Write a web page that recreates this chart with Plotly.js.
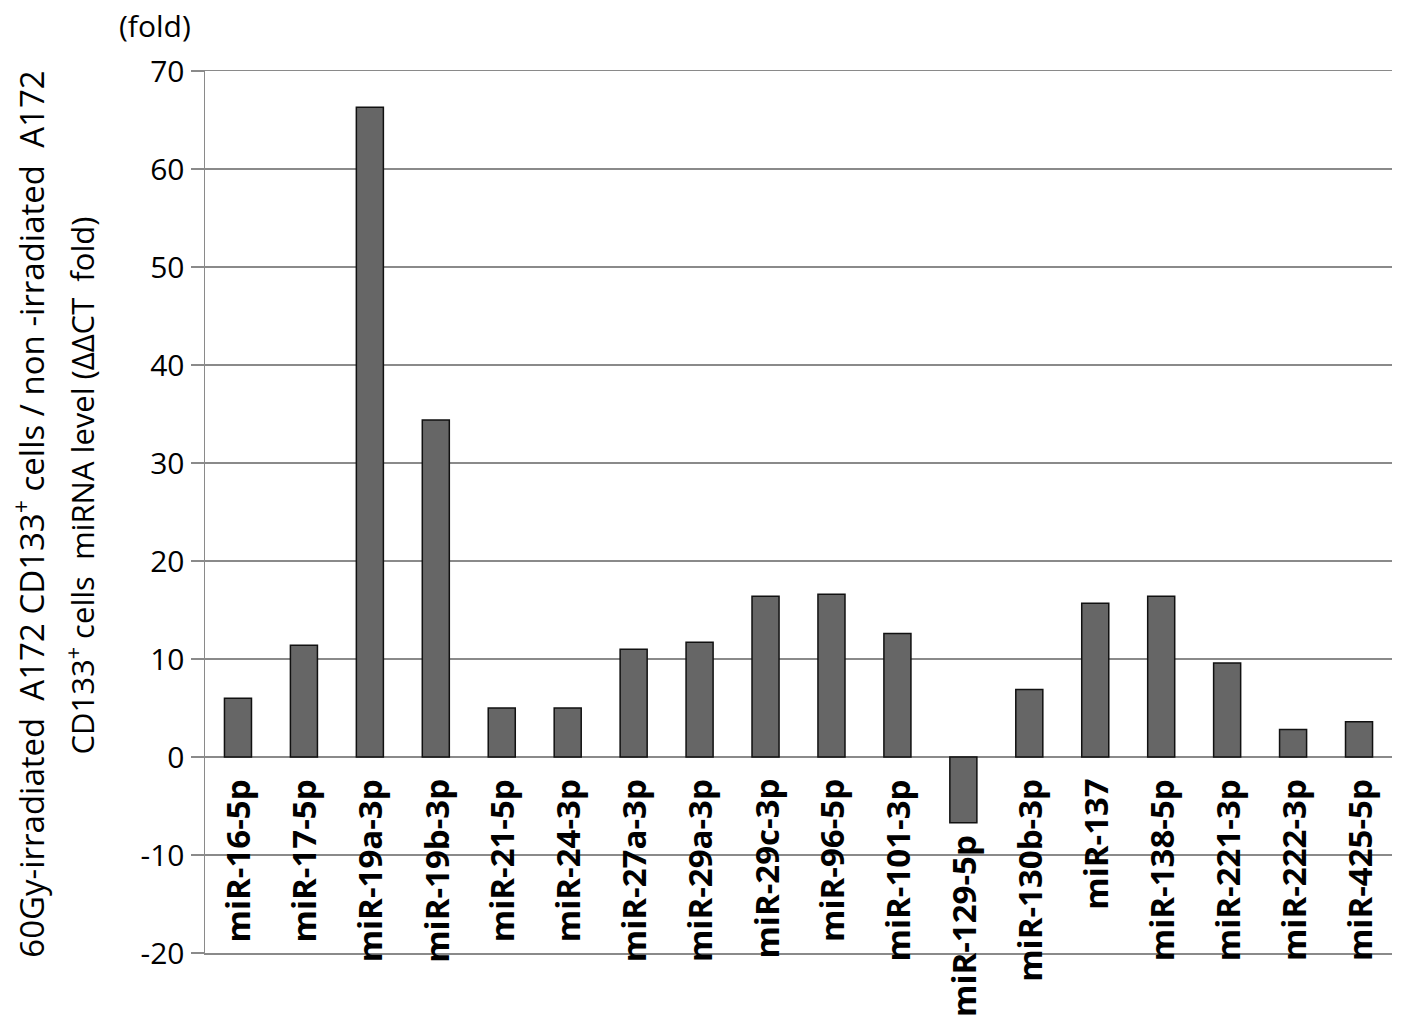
<!DOCTYPE html>
<html>
<head>
<meta charset="utf-8">
<script src="https://cdn.plot.ly/plotly-3.0.1.min.js"></script>
<style>html,body{margin:0;padding:0;background:#fff;}#chart{width:1417px;height:1021px;}</style>
</head>
<body>
<div id="chart"></div>
<script>
const categories = ["miR-16-5p","miR-17-5p","miR-19a-3p","miR-19b-3p","miR-21-5p","miR-24-3p","miR-27a-3p","miR-29a-3p","miR-29c-3p","miR-96-5p","miR-101-3p","miR-129-5p","miR-130b-3p","miR-137","miR-138-5p","miR-221-3p","miR-222-3p","miR-425-5p"];
const foldValues = [6.0, 11.4, 66.3, 34.4, 5.0, 5.0, 11.0, 11.7, 16.4, 16.6, 12.6, -6.7, 6.9, 15.7, 16.4, 9.6, 2.8, 3.6];
const yTicks = [-20, -10, 0, 10, 20, 30, 40, 50, 60, 70];
const yTitleLine1 = "60Gy-irradiated  A172 CD133<sup>+</sup> cells / non -irradiated  A172";
const yTitleLine2 = "CD133<sup>+</sup> cells  miRNA level (ΔΔCT  fold)";
const unitLabel = "(fold)";

const font = "'Open Sans', 'Noto Sans', sans-serif";
const gridCol = "#8a8a8a";

const trace = {
  type: "bar",
  x: categories,
  y: foldValues,
  width: 0.41,
  marker: {color: "#666666", line: {color: "#111111", width: 1.5}},
  hoverinfo: "x+y"
};

const annotations = categories.map((c, i) => ({
  x: c, y: Math.min(0, foldValues[i]), xref: "x", yref: "y",
  text: "<b>" + c + "</b>",
  showarrow: false,
  textangle: -90,
  xanchor: "center", yanchor: "top",
  yshift: foldValues[i] < 0 ? -10 : -20,
  font: {family: font, size: 33, color: "#000"}
}));
annotations.push({
  xref: "paper", yref: "paper", x: -0.010, y: 1.026,
  xanchor: "right", yanchor: "bottom",
  text: unitLabel, showarrow: false,
  font: {family: font, size: 30, color: "#000"}
});
annotations.push({
  xref: "paper", yref: "paper", x: (30 - 205) / 1187, y: 0.497,
  xanchor: "center", yanchor: "middle", textangle: -90,
  text: yTitleLine1, showarrow: false,
  font: {family: font, size: 33, color: "#000"}
});
annotations.push({
  xref: "paper", yref: "paper", x: (81 - 205) / 1187, y: 0.53,
  xanchor: "center", yanchor: "middle", textangle: -90,
  text: yTitleLine2, showarrow: false,
  font: {family: font, size: 31, color: "#000"}
});

const layout = {
  width: 1417, height: 1021,
  margin: {l: 205, r: 25, t: 71, b: 68},
  paper_bgcolor: "#fff", plot_bgcolor: "#fff",
  showlegend: false,
  xaxis: {
    type: "category",
    showticklabels: false,
    showgrid: false, zeroline: false,
    showline: true, mirror: true, linecolor: gridCol, linewidth: 1.5,
    ticks: ""
  },
  yaxis: {
    range: [-20, 70],
    tickvals: yTicks,
    ticktext: yTicks.map(String),
    showgrid: true, gridcolor: gridCol, gridwidth: 1.5,
    zeroline: true, zerolinecolor: gridCol, zerolinewidth: 1.5,
    showline: true, linecolor: gridCol, linewidth: 1.5,
    ticks: "outside", ticklen: 13, tickcolor: gridCol, tickwidth: 1.5,
    tickfont: {family: font, size: 30, color: "#000"}
  },
  annotations: annotations
};

Plotly.newPlot("chart", [trace], layout, {displayModeBar: false, staticPlot: true});
</script>
</body>
</html>
